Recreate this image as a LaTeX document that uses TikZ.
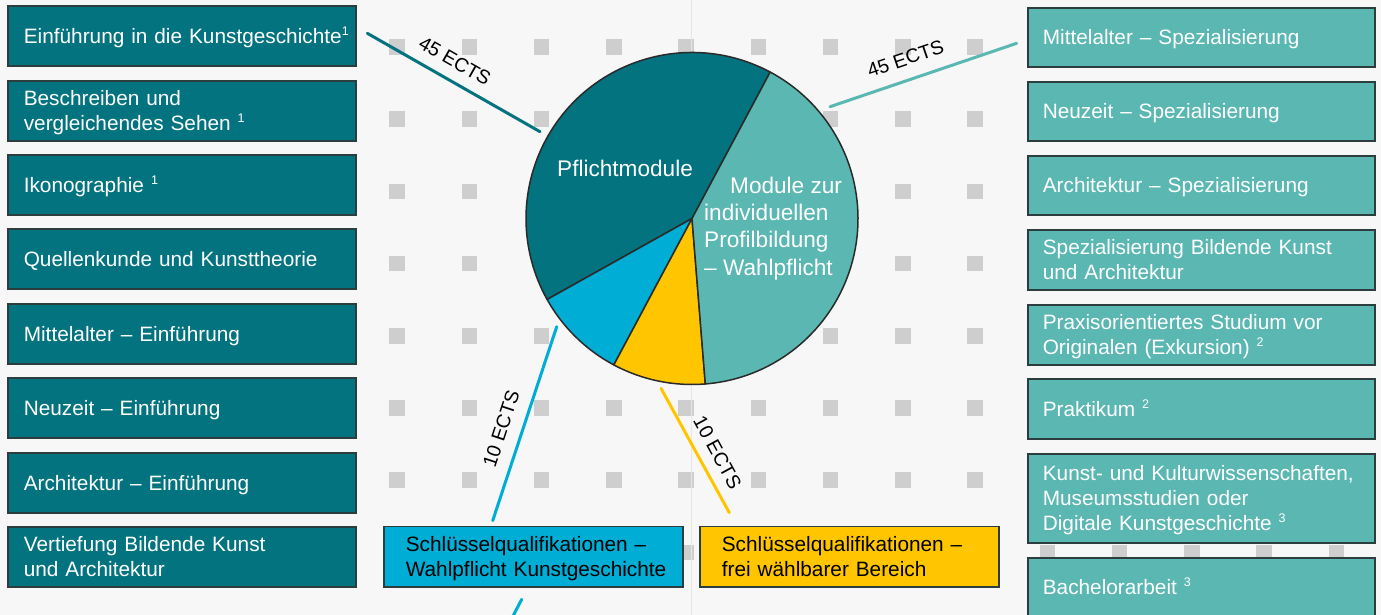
\documentclass[tikz,border=0pt]{standalone}
\usepackage{fontspec}
\setmainfont{Liberation Sans}
\definecolor{bg}{HTML}{F7F7F7}
\definecolor{sq}{HTML}{CECECE}
\definecolor{vline}{HTML}{E6E6E6}
\definecolor{darkteal}{HTML}{03737F}
\definecolor{lightteal}{HTML}{5BB7B2}
\definecolor{skyblue}{HTML}{00ADD5}
\definecolor{sunyellow}{HTML}{FFC600}
\definecolor{boxline}{HTML}{2B3D3C}
\definecolor{pieline}{HTML}{2A2A2A}
\newcommand\supr[1]{\raisebox{7.8pt}{\fontsize{12.5}{12.5}\selectfont #1}}
\newcommand\st{\rule[-0.212em]{0pt}{1.117em}}
\newcommand\boxfont{\fontsize{20.8}{25}\selectfont}
\newcommand\piefont{\fontsize{22.6}{27.2}\selectfont}
\newcommand\ectsfont{\fontsize{19.5}{23}\selectfont}
\begin{document}
\begin{tikzpicture}[x=1pt,y=1pt,
  basebox/.style={draw=boxline, line width=1.6pt, align=left, anchor=north west,
    inner ysep=0pt, font=\boxfont},
  lbox/.style={basebox, fill=darkteal, text=white, text width=316pt, inner xsep=16pt, minimum height=60pt},
  rbox/.style={basebox, fill=lightteal, text=white, text width=317pt, inner xsep=15pt, minimum height=59pt},
  sbox/.style={basebox, text=black, text width=255.6pt, inner xsep=21.7pt, minimum height=60.3pt},
  conn/.style={line width=3pt, line cap=round},
  ects/.style={font=\ectsfont, text=black, inner sep=0pt},
  slice/.style={draw=pieline, line width=1.5pt, line join=round},
  pietext/.style={font=\piefont, text=white, inner sep=0pt, align=left}]
\useasboundingbox (0,0) rectangle (1381,-615);
\clip (0,0) rectangle (1381,-615);
\fill[bg] (0,0) rectangle (1381,-615);
% background grid of squares
\foreach \i in {0,...,13}
  \foreach \j in {0,...,7}
    \fill[sq] ({389.25+72.25*\i},{-39.25-72.2*\j}) rectangle ++(15.5,-15.5);
\draw[vline, line width=1.2pt] (691.5,0) -- (691.5,-615);
% pie chart
\coordinate (pc) at (692,-218.5);
\filldraw[slice, fill=darkteal] (pc) -- ++(61.9:166pt) arc[start angle=61.9, end angle=209.2, radius=166pt] -- cycle;
\filldraw[slice, fill=skyblue] (pc) -- ++(209.2:166pt) arc[start angle=209.2, end angle=241.9, radius=166pt] -- cycle;
\filldraw[slice, fill=sunyellow] (pc) -- ++(241.9:166pt) arc[start angle=241.9, end angle=274.6, radius=166pt] -- cycle;
\filldraw[slice, fill=lightteal] (pc) -- ++(274.6:166pt) arc[start angle=274.6, end angle=421.9, radius=166pt] -- cycle;
\node[pietext, anchor=base west] (pm) at (557,-176.7) {Pflichtmodule};
\node[pietext, anchor=north west] (mz) at (704,-177) {\hspace*{26pt}Module zur\\individuellen\\Profilbildung\\– Wahlpflicht};
% left boxes
\node[lbox] (l1) at (7,-5) {\st\mbox{Einführung in die Kunstgeschichte\supr{1}}\st};
\node[lbox] (l2) at (7,-80) {\st Beschreiben und\\vergleichendes Sehen \supr{1}\st};
\node[lbox] (l3) at (7,-154) {\st Ikonographie \supr{1}\st};
\node[lbox] (l4) at (7,-228) {\st Quellenkunde und Kunsttheorie\st};
\node[lbox] (l5) at (7,-303) {\st Mittelalter – Einführung\st};
\node[lbox] (l6) at (7,-377) {\st Neuzeit – Einführung\st};
\node[lbox] (l7) at (7,-452) {\st Architektur – Einführung\st};
\node[lbox] (l8) at (7,-526) {\st Vertiefung Bildende Kunst\\und Architektur\st};
% right boxes
\node[rbox] (r1) at (1027,-7) {\st Mittelalter – Spezialisierung\st};
\node[rbox] (r2) at (1027,-81) {\st Neuzeit – Spezialisierung\st};
\node[rbox] (r3) at (1027,-155) {\st Architektur – Spezialisierung\st};
\node[rbox, minimum height=60pt] (r4) at (1027,-229) {\st Spezialisierung Bildende Kunst\\und Architektur\st};
\node[rbox, minimum height=60pt] (r5) at (1027,-304) {\st Praxisorientiertes Studium vor\\Originalen (Exkursion) \supr{2}\st};
\node[rbox, minimum height=60pt] (r6) at (1027,-378) {\st Praktikum \supr{2}\st};
\node[rbox, minimum height=89pt] (r7) at (1027,-453) {\st\mbox{Kunst- und Kulturwissenschaften,}\\Museumsstudien oder\\Digitale Kunstgeschichte \supr{3}\st};
\node[rbox] (r8) at (1027,-557) {\st Bachelorarbeit \supr{3}\st};
% bottom boxes
\node[sbox, fill=skyblue] (s1) at (383.3,-525.7) {\st\mbox{Schlüsselqualifikationen –}\\\mbox{Wahlpflicht Kunstgeschichte}\st};
\node[sbox, fill=sunyellow] (s2) at (699.3,-525.7) {\st\mbox{Schlüsselqualifikationen –}\\frei wählbarer Bereich\st};
% connectors
\coordinate (c1a) at (367.3,-33.3);
\coordinate (c1b) at (540,-131.7);
\draw[conn, draw=darkteal] (c1a) -- (c1b);
\node[ects, rotate=-29.7] (e1) at (455,-61) {45 ECTS};
\coordinate (c2a) at (830,-106.7);
\coordinate (c2b) at (1016.7,-43.3);
\draw[conn, draw=lightteal] (c2a) -- (c2b);
\node[ects, rotate=18.8] (e2) at (905.5,-58.7) {45 ECTS};
\coordinate (c3a) at (556.7,-326.7);
\coordinate (c3b) at (492.7,-520.7);
\draw[conn, draw=skyblue] (c3a) -- (c3b);
\node[ects, rotate=71.7] (e3) at (501.2,-428.7) {10 ECTS};
\coordinate (c3c) at (521.7,-599.3);
\coordinate (c3d) at (512.5,-617);
\draw[conn, draw=skyblue] (c3c) -- (c3d);
\coordinate (c4a) at (661,-388.3);
\coordinate (c4b) at (729.3,-512.7);
\draw[conn, draw=sunyellow] (c4a) -- (c4b);
\node[ects, rotate=-61.4] (e4) at (717.5,-452.5) {10 ECTS};
\end{tikzpicture}
\end{document}
